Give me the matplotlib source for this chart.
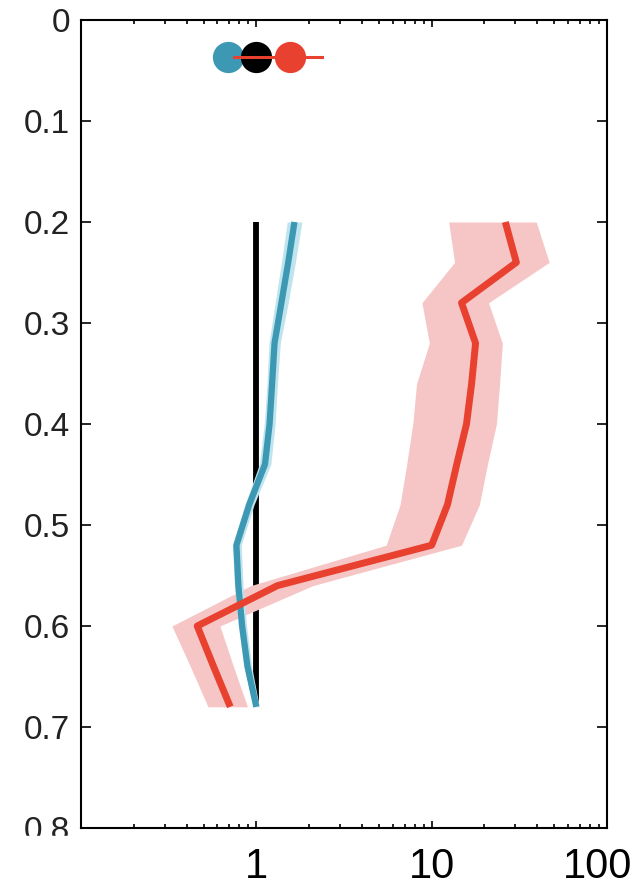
import numpy as np
import matplotlib.pyplot as plt
from matplotlib.patches import Rectangle

plt.rcParams['font.family'] = ['Liberation Sans', 'DejaVu Sans']

# depth levels of the profiles
depth = [0.20, 0.24, 0.28, 0.32, 0.36, 0.40, 0.44, 0.48, 0.52, 0.56, 0.60, 0.64, 0.68]

# reference profile (constant 1)
ref = [1.0] * len(depth)

# blue profile with its envelope
blue = [1.65, 1.52, 1.39, 1.27, 1.23, 1.19, 1.12, 0.91, 0.77, 0.79, 0.83, 0.89, 1.0]
blue_lo = [1.50, 1.39, 1.28, 1.18, 1.15, 1.11, 1.04, 0.86, 0.73, 0.75, 0.79, 0.85, 0.96]
blue_hi = [1.82, 1.67, 1.52, 1.37, 1.32, 1.28, 1.21, 0.97, 0.82, 0.84, 0.88, 0.94, 1.04]

# red profile with its envelope
red = [26.3, 30.4, 14.8, 17.8, 16.9, 15.8, 13.9, 12.3, 10.0, 1.32, 0.46, 0.57, 0.71]
red_lo = [12.5, 13.5, 8.8, 9.7, 8.2, 7.8, 7.2, 6.6, 5.5, 0.93, 0.33, 0.42, 0.53]
red_hi = [39.5, 46.8, 21.1, 25.3, 24.4, 23.4, 20.8, 18.7, 14.8, 2.1, 0.62, 0.74, 0.89]

# summary dots at the top
dot_y = 0.037
dot_blue = 0.69
dot_black = 1.0
dot_red = 1.56
dot_red_err = [0.75, 2.37]

# x tick values and their labels
xticks = [1, 10, 100]
xlabels = ['1', '10', '100']
xlabel_shift = [0, 0, -7]

c_blue = '#3c98b3'
c_blue_band = '#bfe4ed'
c_red = '#e8412f'
c_red_band = '#f6c6c6'

fig = plt.figure(figsize=(6.38, 8.92), dpi=100)
ax = fig.add_axes([81/638, 1 - 828/892, (607 - 81)/638, (828 - 20)/892])

ax.plot(ref, depth, color='black', lw=4.2, solid_capstyle='butt', zorder=1)
ax.fill_betweenx(depth, red_lo, red_hi, color=c_red_band, lw=0, zorder=2)
ax.fill_betweenx(depth, blue_lo, blue_hi, color=c_blue_band, lw=0, zorder=3)
ax.plot(blue, depth, color=c_blue, lw=4.5, solid_capstyle='butt', zorder=4)
ax.plot(red, depth, color=c_red, lw=5, solid_capstyle='butt', zorder=5)

ax.plot(dot_blue, dot_y, 'o', ms=22.5, color=c_blue, mec='none', zorder=6)
ax.plot(dot_black, dot_y, 'o', ms=22.5, color='black', mec='none', zorder=7)
ax.plot(dot_red_err, [dot_y, dot_y], color=c_red, lw=2.2, zorder=8)
ax.plot(dot_red, dot_y, 'o', ms=22.5, color=c_red, mec='none', zorder=9)

ax.set_xscale('log')
ax.set_xlim(0.1, 100)
ax.set_ylim(0.8, 0)
ax.set_xticks(xticks)
ax.set_xticklabels([])
ax.set_yticks(np.arange(0, 0.81, 0.1))
ax.set_yticklabels(['0', '0.1', '0.2', '0.3', '0.4', '0.5', '0.6', '0.7', '0.8'])

# x labels sit well below the axis in a bigger font
for v, t, dx in zip(xticks, xlabels, xlabel_shift):
    ax.annotate(t, xy=(v, 0), xycoords=('data', 'axes fraction'),
                xytext=(dx, -14), textcoords='offset points',
                ha='center', va='top', fontsize=30, annotation_clip=False)

for s in ax.spines.values():
    s.set_linewidth(1.5)
ax.tick_params(which='both', direction='in', top=True, right=True, width=1.2)
ax.tick_params(axis='y', which='major', length=7, labelsize=24, pad=8, labelcolor='#222222')
ax.tick_params(axis='x', which='major', length=5)
ax.tick_params(axis='x', which='minor', length=3)

# white strip over the bottom-left corner
fig.patches.append(Rectangle((0, 0), 78/638, (892 - 836)/892, transform=fig.transFigure,
                             color='white', zorder=10))

fig.savefig('out.png', dpi=100, facecolor='white')
